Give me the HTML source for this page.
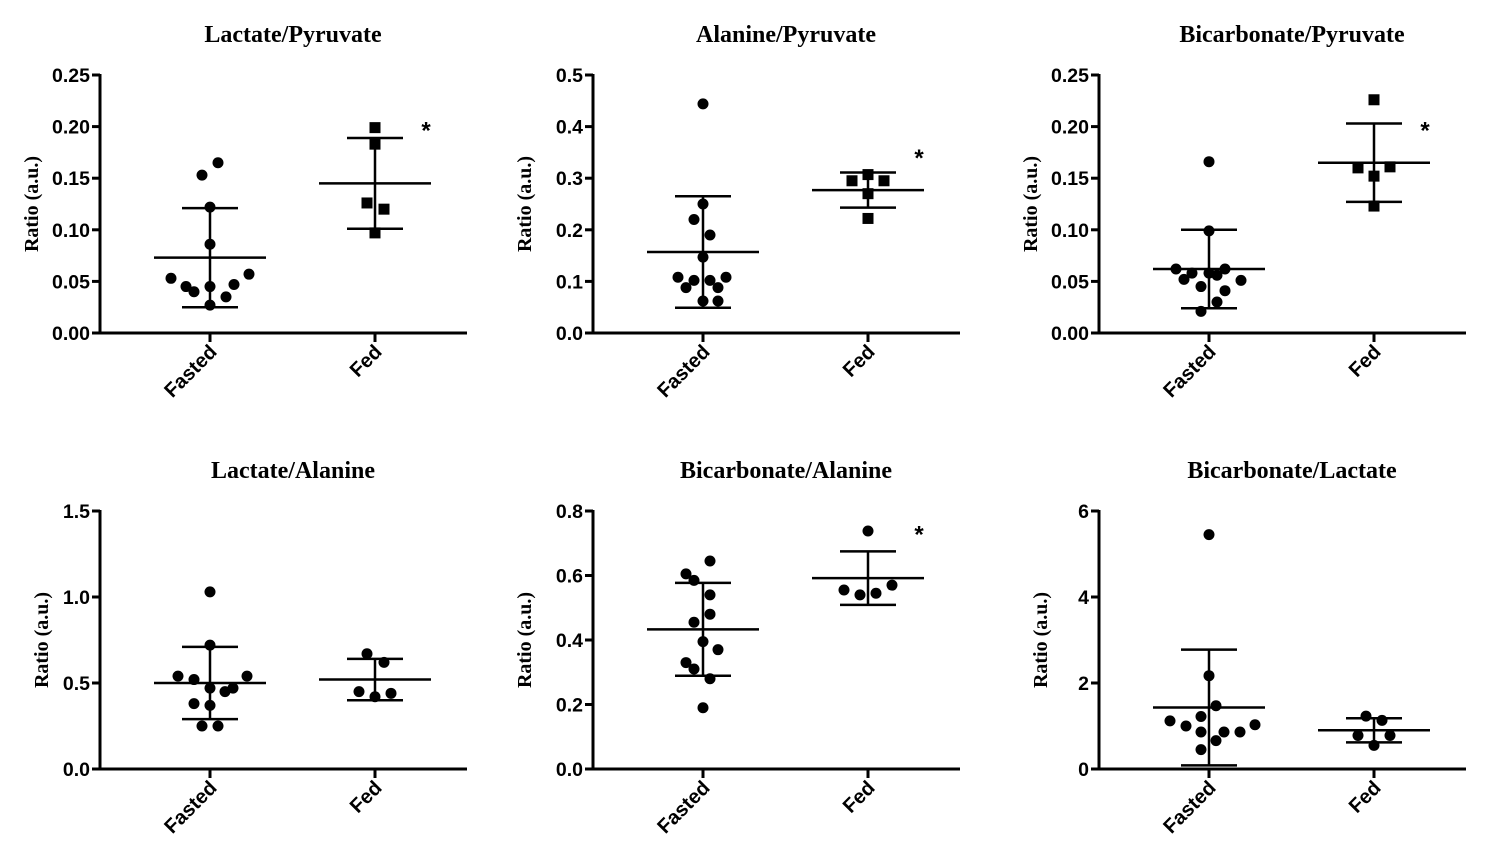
<!DOCTYPE html>
<html><head><meta charset="utf-8"><style>
body{margin:0;background:#fff}
svg{display:block}
</style></head><body>
<svg id="c" width="1500" height="857" xmlns="http://www.w3.org/2000/svg"></svg>
<script>
const titles=["Lactate/Pyruvate","Alanine/Pyruvate","Bicarbonate/Pyruvate","Lactate/Alanine","Bicarbonate/Alanine","Bicarbonate/Lactate"];
const categories=["Fasted","Fed"];
const yMax=[0.25,0.5,0.25,1.5,0.8,6];
const tickStep=[0.05,0.1,0.05,0.5,0.2,2];
const tickDecimals=[2,1,2,1,1,0];
const fastedValues=[
[0.053,0.045,0.040,0.045,0.086,0.122,0.153,0.165,0.035,0.047,0.057,0.027],
[0.444,0.25,0.22,0.19,0.147,0.108,0.102,0.102,0.108,0.088,0.088,0.062,0.062],
[0.166,0.099,0.062,0.058,0.058,0.062,0.052,0.056,0.051,0.045,0.041,0.030,0.021],
[1.03,0.72,0.54,0.52,0.54,0.47,0.47,0.45,0.38,0.37,0.25,0.25],
[0.645,0.605,0.585,0.54,0.48,0.455,0.395,0.37,0.33,0.31,0.28,0.19],
[5.45,2.17,1.47,1.22,1.12,1.0,1.03,0.86,0.86,0.86,0.66,0.45]];
const fastedJitter=[
[-39,-24,-16,0,0,0,-8,8,16,24,39,0],
[0,0,-9,7,0,-25,-9,7,23,-17,15,0,15],
[0,0,-33,-17,0,16,-25,8,32,-8,16,8,-8],
[0,0,-32,-16,37,23,0,15,-16,0,-8,8],
[7,-17,-9,7,7,-9,0,15,-17,-9,7,0],
[0,0,7,-8,-39,-23,46,-8,15,31,7,-8]];
const fedValues=[
[0.199,0.183,0.126,0.120,0.097],
[0.307,0.295,0.295,0.27,0.222],
[0.226,0.160,0.161,0.152,0.123],
[0.67,0.62,0.45,0.44,0.42],
[0.738,0.555,0.54,0.545,0.57],
[1.23,1.13,0.78,0.78,0.55]];
const fedJitter=[[0,0,-8,9,0],[0,-16,16,0,0],[0,-16,16,0,0],[-8,9,-16,16,0],[0,-24,-8,8,24],[-8,8,-16,16,0]];
const fastedMean=[0.073,0.157,0.062,0.50,0.433,1.43];
const fastedSD=[0.048,0.108,0.038,0.21,0.144,1.345];
const fedMean=[0.145,0.277,0.165,0.52,0.592,0.90];
const fedSD=[0.044,0.034,0.038,0.12,0.083,0.28];
const fedSquare=[true,true,true,false,false,false];
const starValue=[0.20,0.347,0.20,null,0.74,null];

const NS="http://www.w3.org/2000/svg";
const svg=document.getElementById('c');
const SERIF='"Liberation Serif",serif',SANS='"Liberation Sans",sans-serif';
function mk(tag,attrs,parent){const e=document.createElementNS(NS,tag);for(const k in attrs)e.setAttribute(k,attrs[k]);(parent||svg).appendChild(e);return e;}
const axX=[100,593,1099],tops=[75,511],bot=[333,769];
for(let p=0;p<6;p++){
  const col=p%3,row=Math.floor(p/3);
  const ax=axX[col],top=tops[row],b=bot[row];
  const g=mk('g',{});
  
  
  const y=v=>b-(v/yMax[p])*(b-top);
  const cx=[ax+110,ax+275];
  const t=mk('text',{x:ax+193,y:top-33,'text-anchor':'middle','font-family':SERIF,'font-weight':'bold','font-size':24},g);t.textContent=titles[p];
  
  
  const yt=mk('text',{x:0,y:0,'text-anchor':'middle','font-family':SERIF,'font-weight':'bold','font-size':20,transform:`translate(${ax-(p===3||p===5?52:62)},${(top+b)/2}) rotate(-90)`},g);yt.textContent="Ratio (a.u.)";
  
  
  const ya=mk('line',{x1:ax,y1:top-1,x2:ax,y2:b+1.5,stroke:'#000','stroke-width':3},g);
  
  
  const xa=mk('line',{x1:ax-1.5,y1:b,x2:ax+367,y2:b,stroke:'#000','stroke-width':3},g);
  
  
  const n=Math.round(yMax[p]/tickStep[p]);
  for(let i=0;i<=n;i++){
    const v=i*tickStep[p],yy=y(v);
    mk('line',{x1:ax-8,y1:yy,x2:ax,y2:yy,stroke:'#000','stroke-width':3},g);
    const tl=mk('text',{x:ax-10,y:yy+7,'text-anchor':'end','font-family':SANS,'font-weight':'bold','font-size':19.5},g);tl.textContent=v.toFixed(tickDecimals[p]);
    
    
  }
  categories.forEach((c,i)=>{
    mk('line',{x1:cx[i],y1:b,x2:cx[i],y2:b+9,stroke:'#000','stroke-width':3},g);
    const xl=mk('text',{x:0,y:0,'text-anchor':'end','font-family':SANS,'font-weight':'bold','font-size':20,transform:`translate(${cx[i]+8},${b+20}) rotate(-45)`},g);xl.textContent=c;
    
    
  });
  const groups=[[fastedValues[p],fastedJitter[p],fastedMean[p],fastedSD[p],false],[fedValues[p],fedJitter[p],fedMean[p],fedSD[p],fedSquare[p]]];
  groups.forEach((gr,i)=>{
    const [vals,jit,m,sd,sq]=gr;const x=cx[i];
    mk('line',{x1:x-56,y1:y(m),x2:x+56,y2:y(m),stroke:'#000','stroke-width':2.5},g);
    mk('line',{x1:x,y1:y(Math.max(0,m-sd)),x2:x,y2:y(m+sd),stroke:'#000','stroke-width':2.5},g);
    mk('line',{x1:x-28,y1:y(m+sd),x2:x+28,y2:y(m+sd),stroke:'#000','stroke-width':2.5},g);
    mk('line',{x1:x-28,y1:y(Math.max(0,m-sd)),x2:x+28,y2:y(Math.max(0,m-sd)),stroke:'#000','stroke-width':2.5},g);
    vals.forEach((v,k)=>{
      let e;
      if(sq)e=mk('rect',{x:x+jit[k]-5.5,y:y(v)-5.5,width:11,height:11,fill:'#000'},g);
      else e=mk('circle',{cx:x+jit[k],cy:y(v),r:5.5,fill:'#000'},g);
      
      
    });
  });
  if(starValue[p]!==null){
    const s=mk('text',{x:ax+326,y:y(starValue[p])+12,'text-anchor':'middle','font-family':SANS,'font-weight':'bold','font-size':24},g);s.textContent="*";
    
    
  }
}
</script>
</body></html>
